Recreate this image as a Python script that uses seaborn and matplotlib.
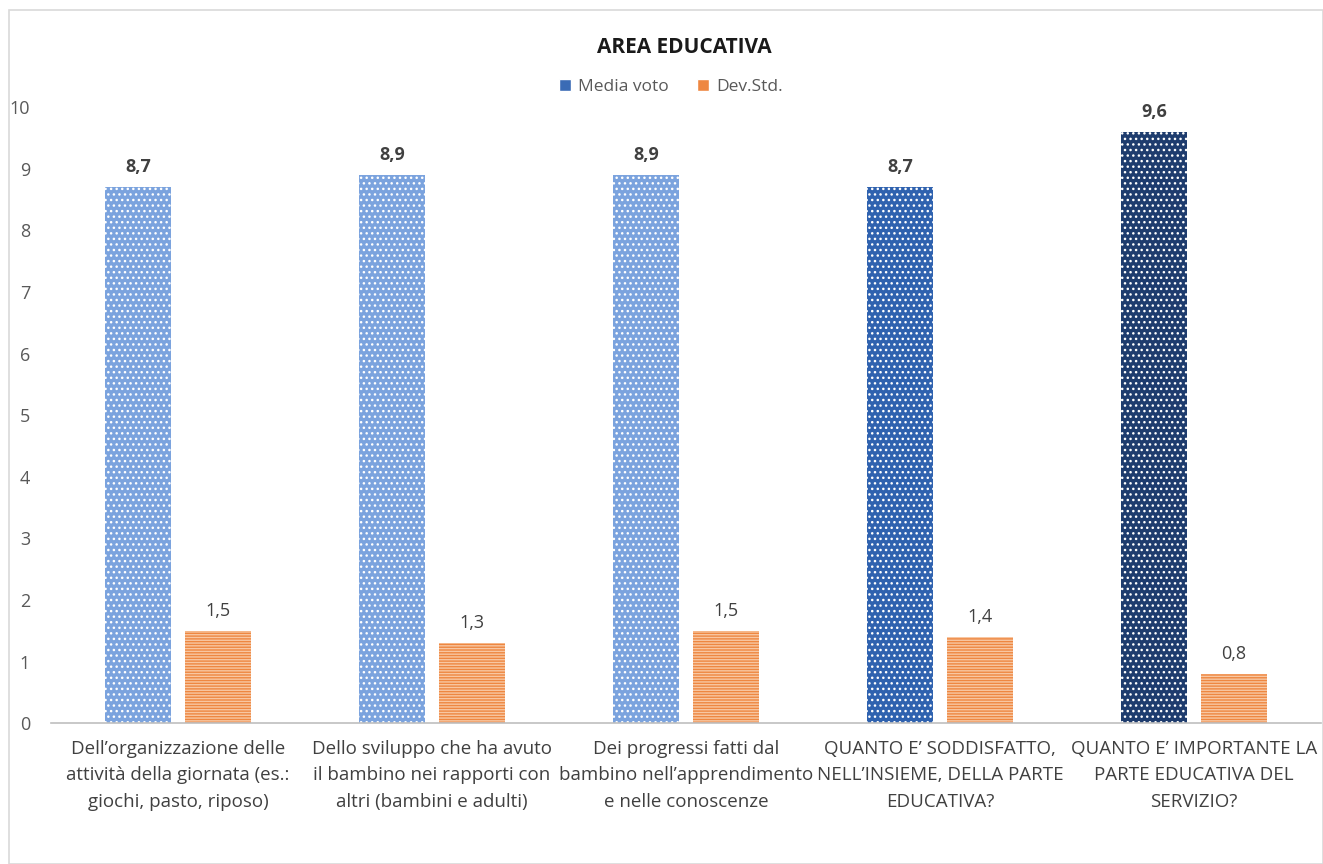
import matplotlib
matplotlib.use("Agg")
import matplotlib.pyplot as plt
import seaborn as sns
import pandas as pd
from matplotlib.patches import Patch, Rectangle

categories = [
    "Dell’organizzazione delle\nattività della giornata (es.:\ngiochi, pasto, riposo)",
    "Dello sviluppo che ha avuto\nil bambino nei rapporti con\naltri (bambini e adulti)",
    "Dei progressi fatti dal\nbambino nell’apprendimento\ne nelle conoscenze",
    "QUANTO E’ SODDISFATTO,\nNELL’INSIEME, DELLA PARTE\nEDUCATIVA?",
    "QUANTO E’ IMPORTANTE LA\nPARTE EDUCATIVA DEL\nSERVIZIO?",
]
media_voto = [8.7, 8.9, 8.9, 8.7, 9.6]
dev_std = [1.5, 1.3, 1.5, 1.4, 0.8]
series_names = ["Media voto", "Dev.Std."]
y_ticks = list(range(0, 11))

blue_colors = ["#7BA3DE", "#7BA3DE", "#7BA3DE", "#2F62AF", "#1E3C6E"]
orange = "#EE8741"
orange_light = "#F8C7A2"

sns.set_theme(style="white")
plt.rcParams["font.family"] = ["Open Sans", "DejaVu Sans"]

df = pd.DataFrame({
    "cat": categories * 2,
    "serie": [series_names[0]] * 5 + [series_names[1]] * 5,
    "val": media_voto + dev_std,
})

fig = plt.figure(figsize=(13.23, 8.64), dpi=100)
ax = fig.add_axes([0.0385, 0.163, 0.96, 0.713])

sns.barplot(data=df, x="cat", y="val", hue="serie", order=categories,
            hue_order=series_names, width=0.63, gap=0.175, ax=ax,
            legend=False, errorbar=None)

plt.rcParams["hatch.linewidth"] = 1.0
for bar, c in zip(ax.containers[0], blue_colors):
    bar.set_facecolor(c)
    bar.set_edgecolor("#FFFFFF")
    bar.set_linewidth(0)
    bar.set_hatch("...")
for bar in ax.containers[1]:
    bar.set_facecolor(orange)
    bar.set_edgecolor(orange_light)
    bar.set_linewidth(0)
    bar.set_hatch("------")

ax.bar_label(ax.containers[0], labels=[f"{v:.1f}".replace(".", ",") for v in media_voto],
             padding=8, fontsize=13, fontweight="bold", color="#404040")
ax.bar_label(ax.containers[1], labels=[f"{v:.1f}".replace(".", ",") for v in dev_std],
             padding=8, fontsize=13, color="#404040")

ax.set_ylim(0, 10)
ax.set_yticks(y_ticks)
ax.set_xlim(-0.5, 4.5)
ax.set_xlabel("")
ax.set_ylabel("")
ax.tick_params(axis="y", labelsize=13, labelcolor="#595959", length=0, pad=15)
ax.tick_params(axis="x", labelsize=13.5, labelcolor="#404040", length=0, pad=12)
for lbl in ax.get_xticklabels():
    lbl.set_ha("center")
    lbl.set_linespacing(1.6)
for s in ["left", "top", "right"]:
    ax.spines[s].set_visible(False)
ax.spines["bottom"].set_color("#BFBFBF")
ax.spines["bottom"].set_linewidth(1.2)

fig.text(0.517, 0.945, "AREA EDUCATIVA", ha="center", va="center",
         fontsize=15, fontweight="bold", color="#1a1a1a")

handles = [Patch(facecolor="#3A6BB5", label=series_names[0]),
           Patch(facecolor=orange, label=series_names[1])]
fig.legend(handles=handles, loc="center", bbox_to_anchor=(0.507, 0.899), ncol=2,
           frameon=False, fontsize=12.5, handlelength=0.7, handleheight=0.7,
           handletextpad=0.4, columnspacing=1.6, labelcolor="#595959")

fig.patches.append(Rectangle((0.007, 0.0), 0.993, 0.988, transform=fig.transFigure,
                             fill=False, edgecolor="#D9D9D9", linewidth=1.2))

fig.savefig("out.png", dpi=100)
